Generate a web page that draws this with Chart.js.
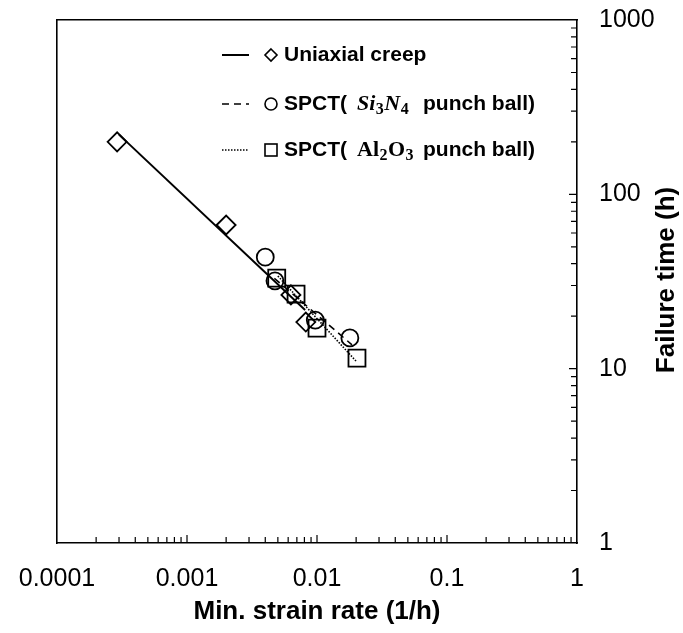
<!DOCTYPE html>
<html>
<head>
<meta charset="utf-8">
<script src="https://cdn.jsdelivr.net/npm/chart.js@4/dist/chart.umd.min.js"></script>
<style>
  body { margin: 0; background: #fff; }
</style>
</head>
<body>
<canvas id="chart" width="683" height="633"></canvas>
<script>
// Data
const strainUniaxial = [0.00029, 0.0020, 0.0063, 0.0082];
const timeUniaxial = [200, 66.7, 26.5, 18.5];
const strainSi3N4 = [0.0040, 0.00475, 0.0097, 0.0179];
const timeSi3N4 = [43.6, 31.9, 19.0, 15.0];
const strainAl2O3 = [0.0049, 0.0069, 0.0100, 0.0203];
const timeAl2O3 = [33.1, 26.8, 17.1, 11.5];

// fitted lines (end points)
const fitUniaxialX = [0.00030, 0.0081];
const fitUniaxialY = [220, 21.7];
const fitSi3N4X = [0.0047, 0.0186];
const fitSi3N4Y = [33, 13.7];
const fitAl2O3X = [0.0050, 0.0203];
const fitAl2O3Y = [34, 10.9];

// axes
const xDecades = [0.0001, 0.001, 0.01, 0.1, 1];
const yDecades = [1, 10, 100, 1000];
const xTickLabels = ['0.0001', '0.001', '0.01', '0.1', '1'];
const yTickLabels = ['1', '10', '100', '1000'];
const minorSteps = [2, 3, 4, 5, 6, 7, 8, 9];

const pts = (xs, ys) => xs.map((x, i) => ({ x: x, y: ys[i] }));

const markerSet = (data, style, r) => ({
    data: data,
    pointStyle: style,
    pointRadius: r,
    pointBorderWidth: 1.8,
    borderColor: '#000',
    backgroundColor: 'rgba(0,0,0,0)',
    showLine: false
});

const lineSet = (data, dash, w) => ({
    data: data,
    showLine: true,
    borderColor: '#000',
    borderWidth: w,
    borderDash: dash,
    pointRadius: 0
});

const noPad = s => {
    s.paddingTop = 0; s.paddingBottom = 0;
    s.paddingLeft = 0; s.paddingRight = 0;
};

// inward tick marks on bottom and right edges
const frameTicks = {
    id: 'frameTicks',
    afterDraw(chart) {
        const ctx = chart.ctx;
        const xs = chart.scales.x, ys = chart.scales.y;
        const a = chart.chartArea;
        ctx.save();
        ctx.strokeStyle = '#000';
        ctx.lineWidth = 1.2;
        ctx.beginPath();
        xDecades.forEach((d, i) => {
            if (i > 0 && i < xDecades.length - 1) {
                const p = xs.getPixelForValue(d);
                ctx.moveTo(p, a.bottom); ctx.lineTo(p, a.bottom - 8);
            }
            if (i < xDecades.length - 1) {
                minorSteps.forEach(m => {
                    const p = xs.getPixelForValue(d * m);
                    ctx.moveTo(p, a.bottom); ctx.lineTo(p, a.bottom - 6);
                });
            }
        });
        yDecades.forEach((d, i) => {
            if (i > 0 && i < yDecades.length - 1) {
                const p = ys.getPixelForValue(d);
                ctx.moveTo(a.right, p); ctx.lineTo(a.right - 8, p);
            }
            if (i < yDecades.length - 1) {
                minorSteps.forEach(m => {
                    const p = ys.getPixelForValue(d * m);
                    ctx.moveTo(a.right, p); ctx.lineTo(a.right - 6, p);
                });
            }
        });
        ctx.stroke();

        // y axis title, reading bottom to top
        ctx.fillStyle = '#000';
        ctx.font = 'bold 26px "Liberation Sans", Arial, sans-serif';
        ctx.textAlign = 'center';
        ctx.textBaseline = 'middle';
        ctx.translate(667, 280);
        ctx.rotate(-Math.PI / 2);
        ctx.fillText('Failure time (h)', 0, 0);
        ctx.restore();
    }
};

// hand-made legend with chemical formulas
const formulaLegend = {
    id: 'formulaLegend',
    afterDraw(chart) {
        const ctx = chart.ctx;
        ctx.save();
        ctx.strokeStyle = '#000';
        ctx.fillStyle = '#000';
        const rows = [55, 104, 150];
        const dashes = [[], [7, 5], [1.5, 1.5]];
        rows.forEach((y, i) => {
            ctx.lineWidth = i === 0 ? 2 : 1.5;
            ctx.setLineDash(dashes[i]);
            ctx.beginPath();
            ctx.moveTo(222, y); ctx.lineTo(249, y);
            ctx.stroke();
        });
        ctx.setLineDash([]);
        ctx.lineWidth = 1.6;
        // markers
        ctx.beginPath();
        ctx.moveTo(271, rows[0] - 6); ctx.lineTo(277, rows[0]);
        ctx.lineTo(271, rows[0] + 6); ctx.lineTo(265, rows[0]); ctx.closePath();
        ctx.stroke();
        ctx.beginPath();
        ctx.arc(271, rows[1], 6, 0, Math.PI * 2);
        ctx.stroke();
        ctx.strokeRect(265, rows[2] - 6, 12, 12);

        const sans = 'bold 21px "Liberation Sans", Arial, sans-serif';
        ctx.textBaseline = 'middle';
        ctx.textAlign = 'left';
        ctx.font = sans;
        ctx.fillText('Uniaxial creep', 284, rows[0]);

        const drawFormula = (parts, x, y, italic) => {
            parts.forEach(p => {
                const sub = /^[0-9]$/.test(p);
                ctx.font = (italic && !sub ? 'italic ' : '') + 'bold ' + (sub ? 16 : 22) + 'px "Liberation Serif", "DejaVu Serif", serif';
                ctx.fillText(p, x, sub ? y + 6 : y);
                x += ctx.measureText(p).width + 0.5;
            });
            return x;
        };

        [[['Si', '3', 'N', '4'], true], [['Al', '2', 'O', '3'], false]].forEach((f, k) => {
            const y = rows[k + 1];
            ctx.font = sans;
            ctx.fillText('SPCT(', 284, y);
            drawFormula(f[0], 357, y, f[1]);
            ctx.font = sans;
            ctx.fillText('punch ball)', 423, y);
        });
        ctx.restore();
    }
};

const ctx = document.getElementById('chart').getContext('2d');
new Chart(ctx, {
    type: 'scatter',
    data: {
        datasets: [
            lineSet(pts(fitUniaxialX, fitUniaxialY), [], 2),
            lineSet(pts(fitSi3N4X, fitSi3N4Y), [7, 5], 1.6),
            lineSet(pts(fitAl2O3X, fitAl2O3Y), [1.5, 1.5], 1.6),
            markerSet(pts(strainUniaxial, timeUniaxial), 'rectRot', 9.5),
            markerSet(pts(strainSi3N4, timeSi3N4), 'circle', 8.5),
            markerSet(pts(strainAl2O3, timeAl2O3), 'rect', 12)
        ]
    },
    options: {
        responsive: false,
        animation: false,
        layout: { padding: 0 },
        plugins: {
            legend: { display: false },
            tooltip: { enabled: false }
        },
        scales: {
            x: {
                type: 'logarithmic',
                position: 'bottom',
                min: 0.0001,
                max: 1,
                afterBuildTicks: s => { s.ticks = xDecades.map(v => ({ value: v })); },
                afterFit: s => { s.height = 90; noPad(s); },
                grid: { display: false, drawTicks: false, tickLength: 0 },
                border: { display: true, color: '#000', width: 1.6 },
                ticks: {
                    autoSkip: false,
                    maxRotation: 0,
                    padding: 21,
                    color: '#000',
                    font: { family: '"Liberation Sans", Arial, sans-serif', size: 25 },
                    callback: v => xTickLabels[xDecades.indexOf(v)] ?? ''
                },
                title: {
                    display: true,
                    text: 'Min. strain rate (1/h)',
                    color: '#000',
                    padding: { top: 0, bottom: 6 },
                    font: { family: '"Liberation Sans", Arial, sans-serif', size: 26, weight: 'bold' }
                }
            },
            xTop: {
                type: 'logarithmic',
                position: 'top',
                min: 0.0001,
                max: 1,
                afterFit: s => { s.height = 20; noPad(s); },
                grid: { display: false, drawTicks: false },
                border: { display: true, color: '#000', width: 1.6 },
                ticks: { display: false }
            },
            y: {
                type: 'logarithmic',
                position: 'right',
                min: 1,
                max: 1000,
                afterBuildTicks: s => { s.ticks = yDecades.map(v => ({ value: v })); },
                afterFit: s => { s.width = 106; noPad(s); },
                grid: { display: false, drawTicks: false, tickLength: 0 },
                border: { display: true, color: '#000', width: 1.6 },
                ticks: {
                    autoSkip: false,
                    padding: 22,
                    color: '#000',
                    font: { family: '"Liberation Sans", Arial, sans-serif', size: 25 },
                    callback: v => yTickLabels[yDecades.indexOf(v)] ?? ''
                }
            },
            yLeft: {
                type: 'logarithmic',
                position: 'left',
                min: 1,
                max: 1000,
                afterFit: s => { s.width = 57; noPad(s); },
                grid: { display: false, drawTicks: false },
                border: { display: true, color: '#000', width: 1.6 },
                ticks: { display: false }
            }
        }
    },
    plugins: [frameTicks, formulaLegend]
});
</script>
</body>
</html>
